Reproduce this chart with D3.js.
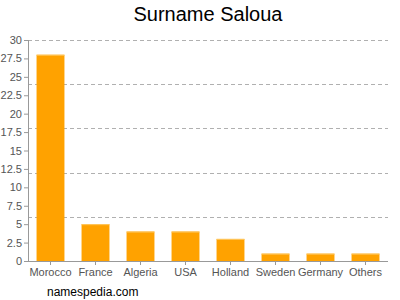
<!DOCTYPE html>
<html>
<head>
<meta charset="utf-8">
<script src="https://cdn.jsdelivr.net/npm/d3@7"></script>
<style>
  body { margin: 0; background: #fff; }
  text { font-family: "Liberation Sans", Arial, sans-serif; }
</style>
</head>
<body>
<div id="canvas"></div>
<script>
const countries = ["Morocco", "France", "Algeria", "USA", "Holland", "Sweden", "Germany", "Others"];
const counts = [28, 5, 4, 4, 3, 1, 1, 1];
const yTicks = [0, 2.5, 5, 7.5, 10, 12.5, 15, 17.5, 20, 22.5, 25, 27.5, 30];
const gridValues = [0, 6, 12, 18, 24, 30];

const data = countries.map((c, i) => ({ name: c, value: counts[i] }));

const width = 400;
const height = 300;
const margin = { top: 40, left: 28, bottom: 39, right: 12 };
const iwidth = width - margin.left - margin.right;
const iheight = height - margin.top - margin.bottom;

const svg = d3.select("#canvas").append("svg")
  .attr("width", width)
  .attr("height", height);

svg.append("text")
  .attr("x", 208)
  .attr("y", 21)
  .attr("text-anchor", "middle")
  .style("font-size", "20px")
  .style("fill", "#000")
  .text("Surname Saloua");

const g = svg.append("g").attr("transform", `translate(${margin.left},${margin.top})`);

const y = d3.scaleLinear()
  .domain([0, 30])
  .range([iheight, 0]);

const x = d3.scaleBand()
  .domain(countries)
  .range([0, iwidth])
  .paddingInner(0.38)
  .paddingOuter(0.19);

// dashed grid
g.selectAll("line.grid").data(gridValues).enter().append("line")
  .attr("class", "grid")
  .attr("x1", 0)
  .attr("x2", iwidth)
  .attr("y1", d => Math.round(y(d)) + 0.5)
  .attr("y2", d => Math.round(y(d)) + 0.5)
  .style("stroke", "#b0b0b0")
  .style("stroke-dasharray", "4,3");

g.selectAll("rect.bar").data(data).enter().append("rect")
  .attr("class", "bar")
  .attr("x", d => x(d.name))
  .attr("y", d => y(d.value))
  .attr("width", x.bandwidth())
  .attr("height", d => iheight - y(d.value))
  .style("fill", "#ffa200");

g.selectAll("line.hl").data(data).enter().append("line")
  .attr("class", "hl")
  .attr("x1", d => x(d.name))
  .attr("x2", d => x(d.name) + x.bandwidth())
  .attr("y1", d => y(d.value) + 0.5)
  .attr("y2", d => y(d.value) + 0.5)
  .style("stroke", "#ffc860");

const xAxis = g.append("g")
  .attr("transform", `translate(0, ${iheight})`)
  .call(d3.axisBottom(x).tickSize(4).tickPadding(3));

const yAxis = g.append("g")
  .call(d3.axisLeft(y).tickValues(yTicks).tickFormat(d3.format("")).tickSize(4).tickPadding(2));

[xAxis, yAxis].forEach(a => {
  a.select(".domain").style("stroke", "#999");
  a.selectAll(".tick line").style("stroke", "#999");
  a.selectAll(".tick text")
    .style("fill", "#555")
    .style("font-size", "11px")
    .style("font-family", "'Liberation Sans', Arial, sans-serif");
});
xAxis.select(".domain").attr("d", `M0,0.5H${iwidth}`);
yAxis.select(".domain").attr("d", `M0.5,0V${iheight}`);

svg.append("text")
  .attr("x", 47)
  .attr("y", 296)
  .style("font-size", "12px")
  .style("fill", "#000")
  .text("namespedia.com");
</script>
</body>
</html>
